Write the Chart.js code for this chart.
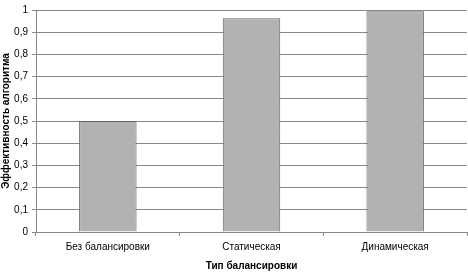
<!DOCTYPE html>
<html>
<head>
<meta charset="utf-8">
<script src="https://cdn.jsdelivr.net/npm/chart.js@4"></script>
<style>
  html, body { margin: 0; padding: 0; background: #fff; }
  #wrap { width: 468px; height: 272px; }
</style>
</head>
<body>
<div id="wrap"><canvas id="effChart"></canvas></div>
<script>
// данные диаграммы
const categories = ['Без балансировки', 'Статическая', 'Динамическая'];
const efficiency = [0.5, 0.963, 0.994];
const yTicks = [0, 0.1, 0.2, 0.3, 0.4, 0.5, 0.6, 0.7, 0.8, 0.9, 1];

const fontFam = '"Liberation Sans", Arial, sans-serif';

const config = {
    type: 'bar',
    data: {
        labels: categories,
        datasets: [{
            data: efficiency,
            backgroundColor: '#b2b2b2',
            borderColor: '#666',
            borderWidth: 1,
            borderSkipped: 'bottom',
            barPercentage: 0.8,
            categoryPercentage: 0.5
        }]
    },
    options: {
        responsive: true,
        maintainAspectRatio: false,
        animation: false,
        layout: { padding: { top: 4, right: 1, left: 0, bottom: 0 } },
        plugins: {
            legend: { display: false },
            tooltip: { enabled: false }
        },
        scales: {
            x: {
                grid: {
                    offset: true,
                    drawOnChartArea: false,
                    drawTicks: true,
                    tickLength: 4,
                    color: '#888'
                },
                border: { color: '#888', width: 1 },
                ticks: {
                    color: '#000',
                    font: { family: fontFam, size: 10 },
                    padding: 5,
                    maxRotation: 0
                },
                title: {
                    display: true,
                    text: 'Тип балансировки',
                    color: '#000',
                    font: { family: fontFam, size: 10, weight: 'bold' },
                    padding: { top: 6, bottom: 0 }
                },
                afterFit: function(scale) { scale.height = 40; }
            },
            y: {
                min: 0,
                max: 1,
                afterBuildTicks: function(scale) {
                    scale.ticks = yTicks.map(function(v) { return { value: v }; });
                },
                grid: {
                    color: '#888',
                    tickLength: 4
                },
                border: { color: '#888', width: 1 },
                ticks: {
                    color: '#000',
                    font: { family: fontFam, size: 10 },
                    padding: 4,
                    callback: function(v) { return String(Math.round(v * 10) / 10).replace('.', ','); }
                },
                title: {
                    display: true,
                    text: 'Эффективность алгоритма',
                    color: '#000',
                    font: { family: fontFam, size: 10, weight: 'bold' },
                    padding: { top: 0, bottom: 0 }
                },
                afterFit: function(scale) { scale.width = 36; }
            }
        }
    },
    plugins: [{
        id: 'whiteBg',
        beforeDraw: function(chart) {
            const c = chart.ctx;
            c.save();
            c.fillStyle = '#fff';
            c.fillRect(0, 0, chart.width, chart.height);
            c.restore();
        }
    }]
};

const effChart = new Chart(document.getElementById('effChart'), config);
</script>
</body>
</html>
